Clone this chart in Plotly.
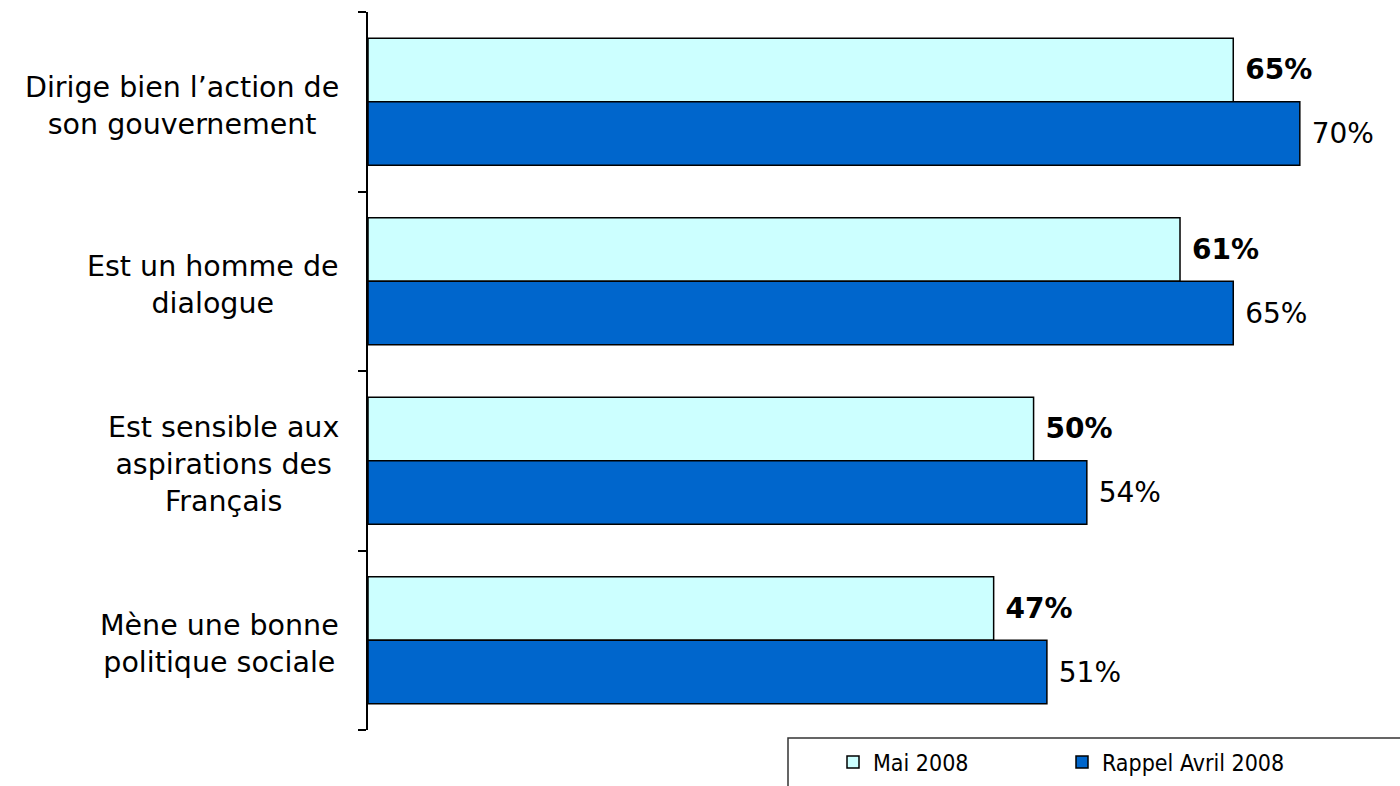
import plotly.graph_objects as go

categories = [
    "Dirige bien l’action de<br>son gouvernement",
    "Est un homme de<br>dialogue",
    "Est sensible aux<br>aspirations des<br>Français",
    "Mène une bonne<br>politique sociale",
]
positions = [0, 1, 2, 3]
boundaries = [-0.5, 0.5, 1.5, 2.5, 3.5]
mai_2008 = [65, 61, 50, 47]
avril_2008 = [70, 65, 54, 51]
series_names = ["Mai 2008", "Rappel Avril 2008"]

FONT = "DejaVu Sans"
W, H = 1400, 786
L, R, T, B = 368, 7, 12, 56
PW = W - L - R
PH = H - T - B

fig = go.Figure()
fig.add_trace(go.Bar(
    y=positions, x=mai_2008, orientation="h", name=series_names[0],
    marker=dict(color="#CCFFFF", line=dict(color="#000000", width=1.5)),
    texttemplate="\u00a0<b>%{x}%</b>", textposition="outside",
    textfont=dict(family=FONT, size=28, color="#000000"),
    cliponaxis=False, hoverinfo="skip",
))
fig.add_trace(go.Bar(
    y=positions, x=avril_2008, orientation="h", name=series_names[1],
    marker=dict(color="#0066CC", line=dict(color="#000000", width=1.5)),
    texttemplate="\u00a0%{x}%", textposition="outside",
    textfont=dict(family=FONT, size=28, color="#000000"),
    cliponaxis=False, hoverinfo="skip",
))

annotations = []
for p, lab in zip(positions, categories):
    annotations.append(dict(
        x=(341 - L) / PW, xref="paper", y=p, yref="y", yshift=-4,
        text=lab, showarrow=False, xanchor="right", yanchor="middle",
        align="center", font=dict(family=FONT, size=28.5, color="#000000"),
    ))

fig.update_layout(
    width=W, height=H,
    margin=dict(l=L, r=R, t=T, b=B, pad=0, autoexpand=False),
    paper_bgcolor="white", plot_bgcolor="white",
    barmode="group", bargap=0.292, bargroupgap=0,
    showlegend=True,
    legend=dict(
        orientation="h", x=(833 - L) / PW, xanchor="left",
        y=-(762 - (H - B)) / PH, yanchor="middle",
        entrywidth=184, entrywidthmode="pixels",
        font=dict(family="DejaVu Sans Condensed, DejaVu Sans", size=23, color="#000000"),
        bgcolor="rgba(0,0,0,0)", borderwidth=0,
    ),
    annotations=annotations,
    shapes=[dict(
        type="rect", xref="paper", yref="paper",
        x0=(788 - L) / PW, x1=1.2,
        y0=-(738 - (H - B)) / PH, y1=-0.3,
        line=dict(color="#333333", width=1.5), fillcolor="rgba(0,0,0,0)",
    )],
    xaxis=dict(range=[0, 77], visible=False, showgrid=False, zeroline=False),
    yaxis=dict(
        range=[3.5, -0.5], showticklabels=False, showgrid=False,
        zeroline=False, showline=True, linecolor="#000000", linewidth=2,
        ticks="outside", ticklen=8, tickwidth=2, tickcolor="#000000",
        tickmode="array", tickvals=boundaries,
    ),
)

fig.write_html(
    "out.html",
    config={"displayModeBar": False},
    post_script="document.body.style.margin='0';document.body.style.overflow='hidden';",
)
